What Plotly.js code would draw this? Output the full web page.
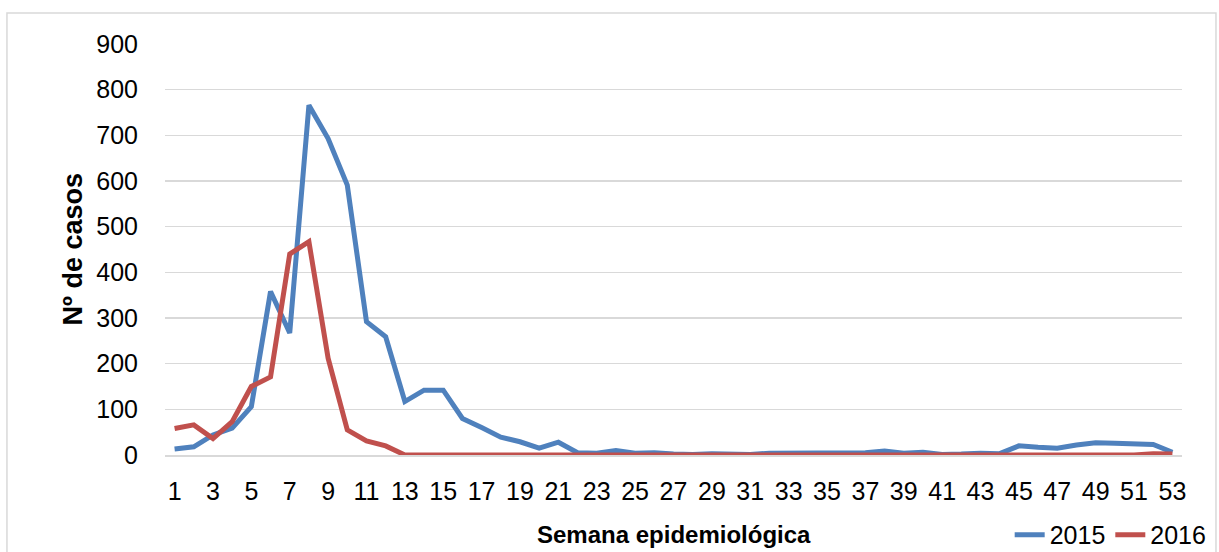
<!DOCTYPE html>
<html>
<head>
<meta charset="utf-8">
<script src="https://cdn.plot.ly/plotly-3.0.1.min.js"></script>
<style>
  html, body { margin: 0; padding: 0; background: #fff; }
  #chart { width: 1219px; height: 552px; }
</style>
</head>
<body>
<div id="chart"></div>
<script>
const weeks = Array.from({length: 53}, (_, i) => i + 1);
const cases2015 = [13,18,44,59,106,358,267,766,693,591,
                   292,259,117,142,142,80,60,39,29,15,
                   28,5,4,10,4,5,2,1,3,3,
                   1,4,4,4,6,4,5,9,4,6,
                   1,2,4,3,20,17,15,22,27,26,
                   24,23,6];
const cases2016 = [58,66,36,73,150,171,440,467,212,55,
                   31,20,0,0,0,0,0,0,0,0,
                   0,0,0,0,0,0,0,0,0,0,
                   0,0,0,0,0,0,0,0,0,0,
                   0,0,0,0,0,0,0,0,0,0,
                   0,3,2];
const xTickVals = weeks.filter(w => w % 2 === 1);
const yTickVals = [0,100,200,300,400,500,600,700,800,900];
const seriesNames = ['2015', '2016'];
const xTitle = 'Semana epidemiológica';
const yTitle = 'Nº de casos';

const FONT = 'Liberation Sans, Arial, sans-serif';

const traces = [
  {x: weeks, y: cases2015, name: seriesNames[0], type: 'scatter', mode: 'lines',
   line: {color: '#4f81bd', width: 5}},
  {x: weeks, y: cases2016, name: seriesNames[1], type: 'scatter', mode: 'lines',
   line: {color: '#c0504d', width: 5}}
];

const tickFont = {family: FONT, size: 25, color: '#000'};

const layout = {
  width: 1219, height: 552,
  margin: {l: 165, r: 37, t: 44, b: 97, autoexpand: false},
  paper_bgcolor: '#fff', plot_bgcolor: '#fff',
  font: {family: FONT, color: '#000', size: 25},
  showlegend: true,
  legend: {orientation: 'h', xref: 'container', yref: 'container',
           x: 0.994, xanchor: 'right', y: 0.031, yanchor: 'middle',
           font: tickFont, bgcolor: 'rgba(0,0,0,0)'},
  xaxis: {
    automargin: false,
    range: [0.5, 53.5], tickmode: 'array', tickvals: xTickVals,
    ticktext: xTickVals.map(String),
    showgrid: false, zeroline: false, showline: true, linecolor: '#d9d9d9', linewidth: 1.5,
    ticks: '', ticklabelstandoff: 13,
    tickfont: tickFont
  },
  yaxis: {
    automargin: false,
    range: [0, 900], tickmode: 'array', tickvals: yTickVals,
    showgrid: true, gridcolor: '#d9d9d9', gridwidth: 1.5, zeroline: false,
    showline: false, ticks: '', ticklabelstandoff: 26,
    tickfont: tickFont
  },
  annotations: [
    {text: xTitle, xref: 'paper', yref: 'paper', x: 0.5, y: -0.1946,
     xanchor: 'center', yanchor: 'middle', showarrow: false,
     font: {family: FONT, size: 24, color: '#000', weight: 'bold'}},
    {text: yTitle, xref: 'paper', yref: 'paper', x: -0.0905, y: 0.5, textangle: -90,
     xanchor: 'center', yanchor: 'middle', showarrow: false,
     font: {family: FONT, size: 27, color: '#000', weight: 'bold'}}
  ],
  shapes: [{type: 'rect', xref: 'paper', yref: 'paper',
            x0: -0.1554, x1: 1.0334, y0: -0.3, y1: 1.0754,
            line: {color: '#d9d9d9', width: 1.5}, fillcolor: 'rgba(0,0,0,0)', layer: 'below'}]
};

Plotly.newPlot('chart', traces, layout, {displayModeBar: false, staticPlot: true});
</script>
</body>
</html>
